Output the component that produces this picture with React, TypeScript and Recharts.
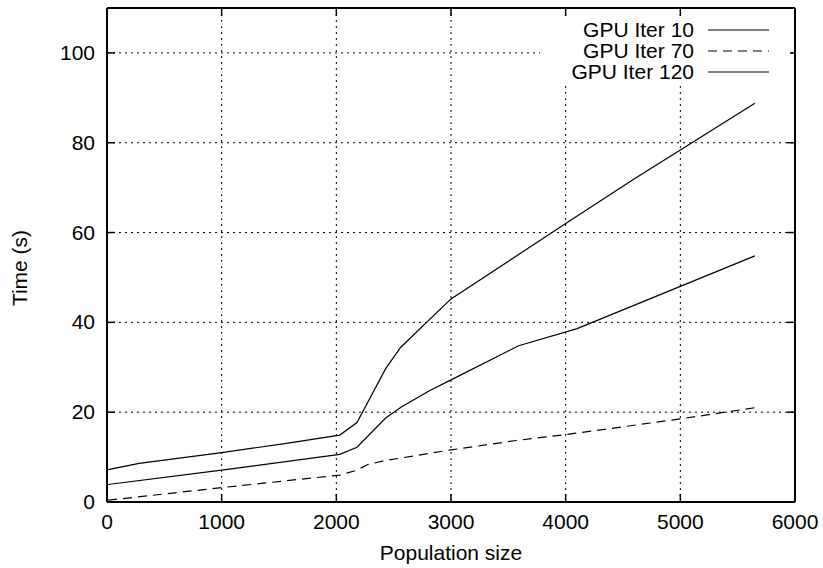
import React from 'react';
import { LineChart, Line, XAxis, YAxis, CartesianGrid } from 'recharts';

const xTicks = [0, 1000, 2000, 3000, 4000, 5000, 6000];
const yTicks = [0, 20, 40, 60, 80, 100];

const iter10X = [10, 1000, 2030, 2180, 2430, 2570, 2820, 3000, 3590, 4100, 5650];
const iter10Y = [3.9, 7.1, 10.6, 12.2, 18.7, 21.2, 24.9, 27.2, 34.8, 38.6, 54.8];

const iter70X = [10, 1000, 2030, 2170, 2270, 2420, 3000, 3570, 4000, 5000, 5650];
const iter70Y = [0.4, 3.2, 6.0, 7.0, 8.3, 9.2, 11.6, 13.7, 15.0, 18.5, 21.0];

const iter120X = [10, 280, 1000, 1550, 2030, 2180, 2430, 2560, 2950, 3000, 4000, 4600, 5000, 5650];
const iter120Y = [7.2, 8.6, 11.0, 13.0, 14.9, 17.7, 29.7, 34.4, 44.0, 45.2, 62.0, 72.0, 78.4, 88.8];

const seriesNames = ['GPU Iter 10', 'GPU Iter 70', 'GPU Iter 120'];
const seriesDash = ['', '9 6', ''];

const zip = (xs: number[], ys: number[]) => xs.map((x, i) => ({ x, y: ys[i] }));

const FONT = '"Liberation Sans", Arial, Helvetica, sans-serif';
const FS = 21;
const TICK = 8;

const BottomTick = (props: any) => {
  const { x, y, payload } = props;
  return (
    <g>
      <line x1={x} y1={y} x2={x} y2={y - TICK} stroke="#000" strokeWidth={1.5} />
      <text x={x} y={y + 27} textAnchor="middle" fontFamily={FONT} fontSize={FS} fill="#000">
        {payload.value}
      </text>
    </g>
  );
};

const TopTick = (props: any) => {
  const { x, y } = props;
  return <line x1={x} y1={y} x2={x} y2={y + TICK} stroke="#000" strokeWidth={1.5} />;
};

const LeftTick = (props: any) => {
  const { x, y, payload } = props;
  return (
    <g>
      <line x1={x} y1={y} x2={x + TICK} y2={y} stroke="#000" strokeWidth={1.5} />
      <text x={x - 12} y={y + 7} textAnchor="end" fontFamily={FONT} fontSize={FS} fill="#000">
        {payload.value}
      </text>
    </g>
  );
};

const RightTick = (props: any) => {
  const { x, y } = props;
  return <line x1={x} y1={y} x2={x - TICK} y2={y} stroke="#000" strokeWidth={1.5} />;
};

const YLabel = (props: any) => {
  const vb = props.viewBox || { x: 0, y: 0, width: 0, height: 0 };
  const cx = 27;
  const cy = vb.y + vb.height / 2 + 13;
  return (
    <text
      x={cx}
      y={cy}
      transform={`rotate(-90 ${cx} ${cy})`}
      textAnchor="middle"
      fontFamily={FONT}
      fontSize={FS}
      fill="#000"
    >
      Time (s)
    </text>
  );
};

const LegendBox = () => (
  <div style={{ position: 'absolute', left: 540, top: 17, width: 250, background: '#fff', padding: '2px 0' }}>
    {seriesNames.map((n, i) => (
      <div key={n} style={{ display: 'flex', alignItems: 'center', height: 21 }}>
        <span
          style={{
            width: 154,
            textAlign: 'right',
            fontFamily: FONT,
            fontSize: FS,
            color: '#000',
            lineHeight: '21px',
            whiteSpace: 'nowrap',
          }}
        >
          {n}
        </span>
        <svg width={80} height={21} style={{ display: 'block' }}>
          <line x1={14} y1={11} x2={75} y2={11} stroke="#000" strokeWidth={1.2} strokeDasharray={seriesDash[i] || undefined} />
        </svg>
      </div>
    ))}
  </div>
);

export default function App() {
  return (
    <div style={{ position: 'absolute', left: 0, top: 0, width: 823, height: 568, background: '#fff' }}>
      <LineChart width={823} height={568} margin={{ top: 7, right: 27, left: 0, bottom: 36 }}>
        <CartesianGrid
          xAxisId="b"
          yAxisId="l"
          stroke="#000"
          strokeDasharray="2 4"
          strokeWidth={1}
        />
        <XAxis
          xAxisId="b"
          type="number"
          dataKey="x"
          domain={[0, 6000]}
          ticks={xTicks}
          orientation="bottom"
          height={30}
          tickSize={0}
          tickMargin={0}
          tickLine={false}
          tick={<BottomTick />}
          axisLine={{ stroke: '#000', strokeWidth: 2 }}
          interval={0}
          allowDataOverflow
          label={{ value: 'Population size', position: 'insideBottom', offset: -28, fontFamily: FONT, fontSize: FS, fill: '#000' }}
        />
        <XAxis
          xAxisId="t"
          type="number"
          dataKey="x"
          domain={[0, 6000]}
          ticks={xTicks}
          orientation="top"
          height={1}
          tickSize={0}
          tickMargin={0}
          tickLine={false}
          tick={<TopTick />}
          axisLine={{ stroke: '#000', strokeWidth: 2 }}
          interval={0}
          allowDataOverflow
        />
        <YAxis
          yAxisId="l"
          type="number"
          domain={[0, 110]}
          ticks={yTicks}
          orientation="left"
          width={107}
          tickSize={0}
          tickMargin={0}
          tickLine={false}
          tick={<LeftTick />}
          axisLine={{ stroke: '#000', strokeWidth: 2 }}
          interval={0}
          allowDataOverflow
          label={<YLabel />}
        />
        <YAxis
          yAxisId="r"
          type="number"
          domain={[0, 110]}
          ticks={yTicks}
          orientation="right"
          width={1}
          tickSize={0}
          tickMargin={0}
          tickLine={false}
          tick={<RightTick />}
          axisLine={{ stroke: '#000', strokeWidth: 2 }}
          interval={0}
          allowDataOverflow
        />
        <Line
          xAxisId="t"
          yAxisId="r"
          data={zip(iter120X, iter120Y)}
          dataKey="y"
          stroke="none"
          dot={false}
          legendType="none"
          isAnimationActive={false}
        />
        <Line
          xAxisId="b"
          yAxisId="l"
          data={zip(iter10X, iter10Y)}
          dataKey="y"
          name={seriesNames[0]}
          stroke="#000"
          strokeWidth={1.2}
          dot={false}
          isAnimationActive={false}
        />
        <Line
          xAxisId="b"
          yAxisId="l"
          data={zip(iter70X, iter70Y)}
          dataKey="y"
          name={seriesNames[1]}
          stroke="#000"
          strokeWidth={1.2}
          strokeDasharray={seriesDash[1]}
          dot={false}
          isAnimationActive={false}
        />
        <Line
          xAxisId="b"
          yAxisId="l"
          data={zip(iter120X, iter120Y)}
          dataKey="y"
          name={seriesNames[2]}
          stroke="#000"
          strokeWidth={1.2}
          dot={false}
          isAnimationActive={false}
        />
      </LineChart>
      <LegendBox />
    </div>
  );
}
